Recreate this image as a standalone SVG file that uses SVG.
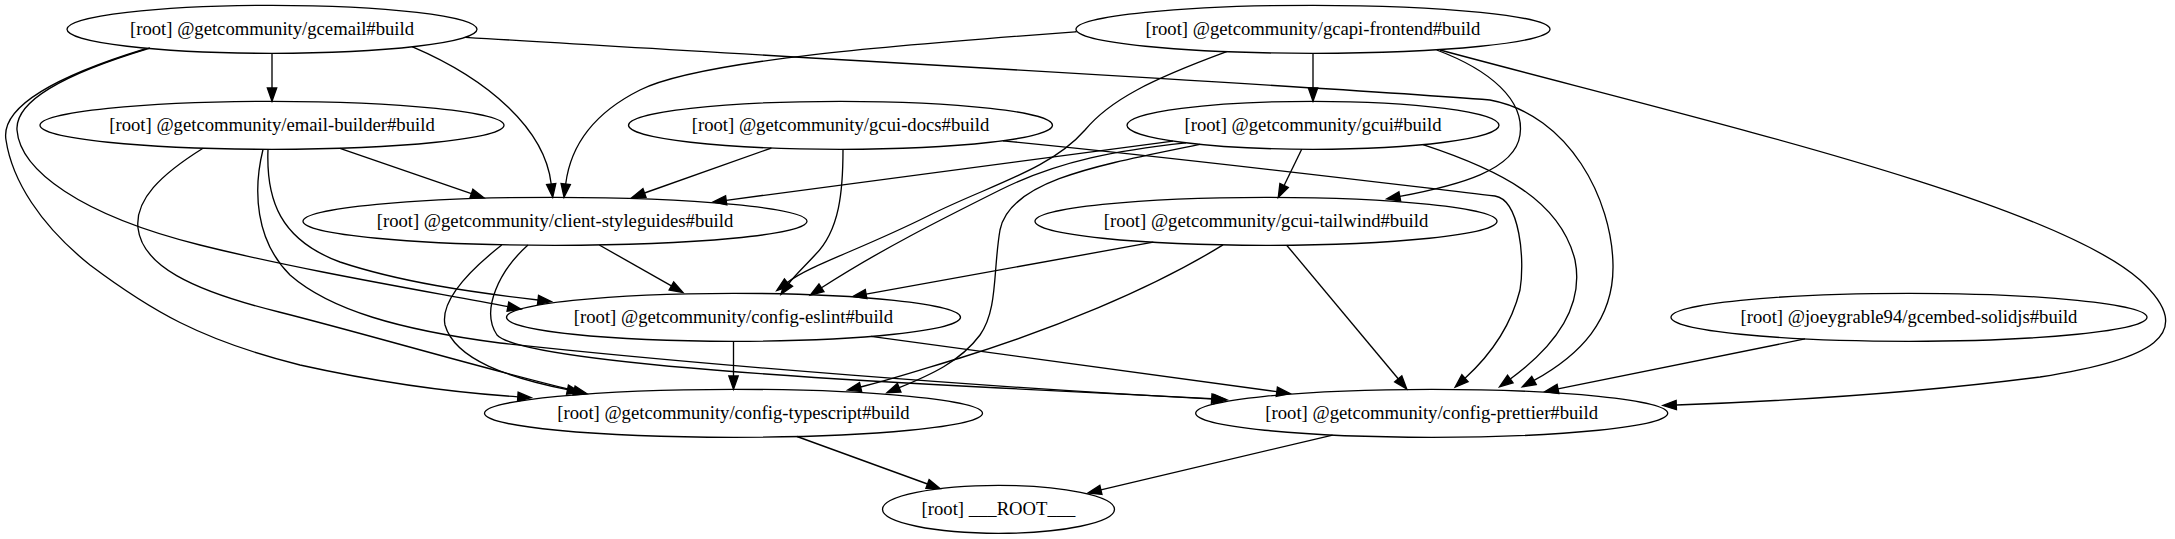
<svg xmlns="http://www.w3.org/2000/svg" width="2175" height="539" viewBox="0 0 2175 539">
<defs>
<style>
.n ellipse{fill:none;stroke:#000;stroke-width:1.333}
.n text{font-family:"Liberation Serif","Times New Roman",serif;font-size:18.67px;text-anchor:middle;fill:#000}
#edges path{fill:none;stroke:#000;stroke-width:1.333;marker-end:url(#ah)}
</style>
<marker id="ah" markerUnits="userSpaceOnUse" viewBox="0 0 13.33 9.33" refX="0" refY="4.665" markerWidth="13.33" markerHeight="9.33" orient="auto" overflow="visible">
<path d="M0,0 L13.33,4.665 L0,9.33 z" fill="#000" stroke="#000" stroke-width="1.333"/>
</marker>
</defs>
<rect width="2175" height="539" fill="#fff"/>
<g id="edges">
<path d="M272,53.3 L272,88"/>
<path d="M412,46.7 C490,80 545,130 551.2,184"/>
<path d="M150,48 C70,72 15,100 17,130 C20,170 80,215 200,245 C300,270 420,290 507.9,306.7"/>
<path d="M145,49 C60,75 0,105 6,140 C12,180 40,225 90,265 C150,310 200,340 300,365 C390,385 460,393 517.8,396.8"/>
<path d="M465.6,37.3 C800,58 1300,85 1490,100 C1570,115 1612,200 1613,265 C1614,320 1580,355 1534,380.4"/>
<path d="M1313,53.3 L1313,88"/>
<path d="M1076.6,31.7 C900,45 700,60 640,90 C590,115 570,150 565.7,184"/>
<path d="M1226.7,51.7 C1150,80 1110,100 1085,130 C1050,170 990,185 930,215 C860,250 810,265 787.3,282.5"/>
<path d="M1436.7,50 C1490,70 1525,100 1520,135 C1515,170 1460,185 1399.8,196.4"/>
<path d="M1440,50 C1700,120 2050,200 2140,280 C2200,335 2150,360 2040,377 C1900,395 1760,402 1676.3,405"/>
<path d="M340,148.3 L471.4,193.6"/>
<path d="M268,149.5 C266,200 280,240 340,262 C400,282 470,292 538,300"/>
<path d="M203,148.2 C160,175 135,200 138,228 C142,265 190,290 279,312 C370,335 470,365 574,390.5"/>
<path d="M263,149.5 C253,190 255,240 290,275 C330,310 400,330 500,343 C700,365 1000,388 1213.7,399.1"/>
<path d="M771.4,148 L644.5,193"/>
<path d="M843,149.3 C843,190 840,230 815,255 C805,266 795,275 788.8,283.5"/>
<path d="M1003,140.8 C1200,160 1400,185 1495,196 C1520,200 1525,260 1520,290 C1510,330 1485,360 1465,378.2"/>
<path d="M1173,141.1 L726.2,200.3"/>
<path d="M1301.7,149.3 L1284.1,185.5"/>
<path d="M1186,142.8 C1120,150 1060,160 1000,190 C940,220 880,250 821.5,287.8"/>
<path d="M1200,144.3 C1100,165 1010,180 1000,230 C993,270 998,310 980,335 C960,362 930,375 899.2,387.7"/>
<path d="M1423,144.7 C1500,170 1560,200 1575,260 C1585,310 1550,350 1510.3,379"/>
<path d="M599.3,245 L671.4,285.9"/>
<path d="M501.7,245 C470,270 440,300 445,325 C455,360 510,378 567.5,389.6"/>
<path d="M528,245 C500,270 480,310 497,335 C520,360 800,378 1000,388 C1100,393 1170,396 1211.7,398.6"/>
<path d="M1153.3,242.2 L866.1,294.1"/>
<path d="M1223,244.9 C1150,290 1050,330 960,358 C920,370 890,380 860.6,387"/>
<path d="M1286.7,245.2 L1398.2,378.8"/>
<path d="M733.5,341.3 L733.5,376"/>
<path d="M871,336.4 L1276.8,391.7"/>
<path d="M1805,338.9 L1558,388.9"/>
<path d="M797,436.5 L927.5,484"/>
<path d="M1332.6,435.1 L1100.9,489.9"/>
</g>
<g id="n-gcemail" class="n"><ellipse cx="272" cy="29.3" rx="205" ry="24"/><text x="272" y="34.9">[root] @getcommunity/gcemail#build</text></g>
<g id="n-gcapi" class="n"><ellipse cx="1313" cy="29.3" rx="237" ry="24"/><text x="1313" y="34.9">[root] @getcommunity/gcapi-frontend#build</text></g>
<g id="n-email-builder" class="n"><ellipse cx="272" cy="125.3" rx="232" ry="24"/><text x="272" y="130.9">[root] @getcommunity/email-builder#build</text></g>
<g id="n-gcui-docs" class="n"><ellipse cx="840.5" cy="125.3" rx="212" ry="24"/><text x="840.5" y="130.9">[root] @getcommunity/gcui-docs#build</text></g>
<g id="n-gcui" class="n"><ellipse cx="1313" cy="125.3" rx="186" ry="24"/><text x="1313" y="130.9">[root] @getcommunity/gcui#build</text></g>
<g id="n-client-styleguides" class="n"><ellipse cx="555" cy="221.3" rx="252" ry="24"/><text x="555" y="226.9">[root] @getcommunity/client-styleguides#build</text></g>
<g id="n-gcui-tailwind" class="n"><ellipse cx="1266" cy="221.3" rx="231" ry="24"/><text x="1266" y="226.9">[root] @getcommunity/gcui-tailwind#build</text></g>
<g id="n-config-eslint" class="n"><ellipse cx="733.5" cy="317.3" rx="227" ry="24"/><text x="733.5" y="322.9">[root] @getcommunity/config-eslint#build</text></g>
<g id="n-gcembed-solidjs" class="n"><ellipse cx="1909" cy="317.3" rx="238" ry="24"/><text x="1909" y="322.9">[root] @joeygrable94/gcembed-solidjs#build</text></g>
<g id="n-config-typescript" class="n"><ellipse cx="733.5" cy="413.3" rx="249" ry="24"/><text x="733.5" y="418.9">[root] @getcommunity/config-typescript#build</text></g>
<g id="n-config-prettier" class="n"><ellipse cx="1431.7" cy="413.3" rx="236" ry="24"/><text x="1431.7" y="418.9">[root] @getcommunity/config-prettier#build</text></g>
<g id="n-root" class="n"><ellipse cx="998.5" cy="509.3" rx="116" ry="24"/><text x="998.5" y="514.9">[root] ___ROOT___</text></g>
</svg>
